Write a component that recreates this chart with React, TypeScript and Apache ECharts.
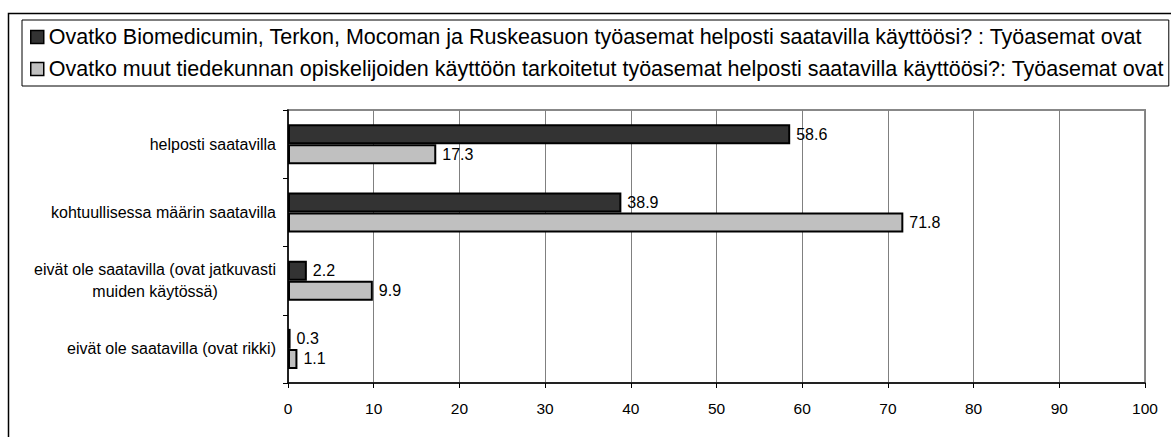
import React, { useEffect, useRef } from "react";
import * as echarts from "echarts";

const categories = [
  "helposti saatavilla",
  "kohtuullisessa määrin saatavilla",
  "eivät ole saatavilla (ovat jatkuvasti\nmuiden käytössä)",
  "eivät ole saatavilla (ovat rikki)",
];
const seriesNames = [
  "Ovatko Biomedicumin, Terkon, Mocoman ja Ruskeasuon työasemat helposti saatavilla käyttöösi? : Työasemat ovat",
  "Ovatko muut tiedekunnan opiskelijoiden käyttöön tarkoitetut työasemat helposti saatavilla käyttöösi?: Työasemat ovat",
];
const darkValues = [58.6, 38.9, 2.2, 0.3];
const lightValues = [17.3, 71.8, 9.9, 1.1];
const xTicks = [0, 10, 20, 30, 40, 50, 60, 70, 80, 90, 100];

const FONT = "'Liberation Sans', Arial, sans-serif";

export default function App() {
  const ref = useRef<HTMLDivElement>(null);
  useEffect(() => {
    if (!ref.current) return;
    const chart = echarts.init(ref.current, null, { renderer: "svg" });
    const labelStyle = {
      show: true,
      position: "right" as const,
      distance: 6,
      fontSize: 16,
      color: "#000",
      fontFamily: FONT,
      formatter: (p: any) => p.value.toFixed(1),
    };
    chart.setOption({
      animation: false,
      backgroundColor: "#fff",
      textStyle: { fontFamily: FONT },
      graphic: [
        {
          type: "rect",
          shape: { x: 8.5, y: 13.5, width: 1400, height: 700 },
          style: { fill: "none", stroke: "#000", lineWidth: 1.5 },
          silent: true,
          z: 0,
        },
      ],
      legend: {
        orient: "vertical",
        left: 22,
        top: 20,
        padding: [6, 5, 6, 8],
        itemGap: 10,
        itemWidth: 13,
        itemHeight: 13,
        borderColor: "#000",
        borderWidth: 1,
        backgroundColor: "#fff",
        itemStyle: { borderColor: "#000", borderWidth: 1.5 },
        textStyle: { fontSize: 21.5, color: "#000", fontFamily: FONT },
        data: seriesNames.map((n) => ({ name: n, icon: "rect" })),
      },
      grid: {
        left: 288,
        right: 26,
        top: 110,
        bottom: 54,
        show: true,
        borderColor: "#888",
        borderWidth: 2,
        backgroundColor: "#fff",
      },
      xAxis: {
        type: "value",
        min: xTicks[0],
        max: xTicks[xTicks.length - 1],
        interval: 10,
        axisLine: { show: true, lineStyle: { color: "#000", width: 1.5 } },
        axisTick: { show: true, inside: false, length: 5, lineStyle: { color: "#000" } },
        axisLabel: { fontSize: 15.5, color: "#000", margin: 17, fontFamily: FONT },
        splitLine: { show: true, lineStyle: { color: "#808080", width: 1 } },
      },
      yAxis: {
        type: "category",
        data: categories,
        inverse: true,
        axisLine: { show: true, lineStyle: { color: "#000", width: 1.5 } },
        axisTick: { show: true, inside: false, length: 5, lineStyle: { color: "#000" } },
        axisLabel: {
          fontSize: 16,
          color: "#000",
          margin: 12,
          fontFamily: FONT,
          lineHeight: 22,
          formatter: (v: string) => {
            const parts = v.split("\n");
            if (parts.length === 1) return v;
            return parts.map((p) => "{c|" + p + "}").join("\n");
          },
          rich: {
            c: { align: "center", fontSize: 16, color: "#000", fontFamily: FONT, lineHeight: 22 },
          },
        },
        splitLine: { show: false },
      },
      series: [
        {
          name: seriesNames[0],
          type: "bar",
          data: darkValues,
          barWidth: 20,
          barGap: "0%",
          itemStyle: { color: "#333333", borderColor: "#000", borderWidth: 2 },
          label: labelStyle,
        },
        {
          name: seriesNames[1],
          type: "bar",
          data: lightValues,
          barWidth: 20,
          barGap: "0%",
          itemStyle: { color: "#c0c0c0", borderColor: "#000", borderWidth: 2 },
          label: labelStyle,
        },
      ],
    });
    return () => chart.dispose();
  }, []);
  return (
    <div
      ref={ref}
      style={{ position: "fixed", left: 0, top: 0, width: 1171, height: 437 }}
    />
  );
}
